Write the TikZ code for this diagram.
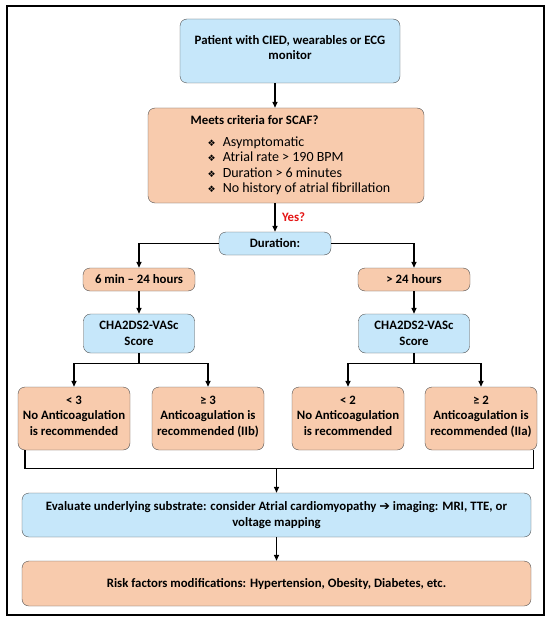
\documentclass[tikz,border=0pt]{standalone}
\usepackage{fontspec}
\setmainfont{Carlito}
\newfontfamily\symfont{DejaVu Sans}
\usetikzlibrary{positioning}
\usetikzlibrary{calc}
\usetikzlibrary{arrows.meta}
\definecolor{boxblue}{RGB}{198,231,250}
\definecolor{boxorange}{RGB}{248,203,173}
\definecolor{boxline}{RGB}{80,80,80}
\definecolor{yesred}{RGB}{228,20,20}
\newcommand{\critem}{\fontsize{14}{15.5}\selectfont\mdseries\hspace{17pt}{\symfont\fontsize{9}{9}\selectfont ❖}\hspace{7pt}}
\begin{document}
\begin{tikzpicture}[x=1pt,y=-1pt,
font=\fontsize{12.8}{15.5}\selectfont\bfseries,
arr/.style={draw,line width=1.4pt,-{Triangle[length=6pt,width=5pt]}},
ln/.style={draw,line width=1.4pt}
]

\tikzstyle{bb} = [draw=boxline, fill=boxblue, rounded corners=7pt, align=center, inner sep=0pt]
\tikzstyle{ob} = [draw=boxline, fill=boxorange, rounded corners=7pt, align=center, inner sep=0pt]
\useasboundingbox (0,0) rectangle (550,623);
\draw[line width=1.8pt] (7,6) rectangle (544,615);

\node[bb, minimum width=220pt, minimum height=64pt] (top) at (290,51)
    {Patient with CIED, wearables or ECG\\monitor\\[-8.5pt]\mbox{}};
\node[ob, minimum width=276pt, minimum height=95pt] (scaf) at (286,155.5)
    {\begin{tabular}{@{\hspace{9pt}}l@{}}
     Meets criteria for SCAF?\\[6.5pt]
     \critem Asymptomatic\\
     \critem Atrial rate > 190 BPM\\
     \critem Duration > 6 minutes\\
     \critem No history of atrial fibrillation
     \end{tabular}};
\node[bb, minimum width=112pt, minimum height=23pt] (dur) at (275,243.5) {Duration:};

% duration branches
\node[ob, minimum width=112pt, minimum height=23pt] (dA) at (139,279.5) {6 min -- 24 hours};
\node[ob, minimum width=112pt, minimum height=23pt] (dB) at (414,279.5) {> 24 hours};
\node[bb, minimum width=111pt, minimum height=39pt] (chaA) at (139,333.5) {CHA2DS2-VASc\\Score};
\node[bb, minimum width=111pt, minimum height=39pt] (chaB) at (414,333.5) {CHA2DS2-VASc\\Score};

% score results
\node[ob, minimum width=112pt, minimum height=63pt] (lA) at (74,418.5) {< 3\\No Anticoagulation\\is recommended\\[-9.5pt]\mbox{}};
\node[ob, minimum width=112pt, minimum height=63pt] (lB) at (208,418.5) {≥ 3\\Anticoagulation is\\recommended (IIb)\\[-9.5pt]\mbox{}};
\node[ob, minimum width=112pt, minimum height=63pt] (lC) at (348,418.5) {< 2\\No Anticoagulation\\is recommended\\[-9.5pt]\mbox{}};
\node[ob, minimum width=112pt, minimum height=63pt] (lD) at (481,418.5) {≥ 2\\Anticoagulation is\\recommended (IIa)\\[-9.5pt]\mbox{}};

\node[bb, minimum width=509pt, minimum height=44pt] (eval) at (276.5,515)
    {Evaluate underlying substrate: consider Atrial cardiomyopathy {\symfont ➔} imaging: MRI, TTE, or\\voltage mapping};
\node[ob, minimum width=509pt, minimum height=45pt] (risk) at (276.5,583.5)
    {Risk factors modifications: Hypertension, Obesity, Diabetes, etc.};

% connectors
\draw[arr] (top.south -| dur.north) -- (scaf.north -| dur.north);
\draw[arr] (scaf.south -| dur.north) -- (dur.north)
    node[midway, right=3pt, text=yesred] (yes) {Yes?};
\draw[arr] (dur.west) -| (dA.north);
\draw[arr] (dur.east) -| (dB.north);
\draw[arr] (dA) -- (chaA);
\draw[arr] (dB) -- (chaB);
\draw[arr] (chaA.south) -- ++(0,10) -| (lA.north);
\draw[arr] (chaA.south) -- ++(0,10) -| (lB.north);
\draw[arr] (chaB.south) -- ++(0,10) -| (lC.north);
\draw[arr] (chaB.south) -- ++(0,10) -| (lD.north);
\draw[ln] ([xshift=7pt]lA.south west) -- ++(0,18) coordinate (col) -| ([xshift=-4pt]lD.south east);
\draw[arr] (col -| eval.north) -- (eval.north);
\draw[arr] (eval) -- (risk);
\end{tikzpicture}
\end{document}
